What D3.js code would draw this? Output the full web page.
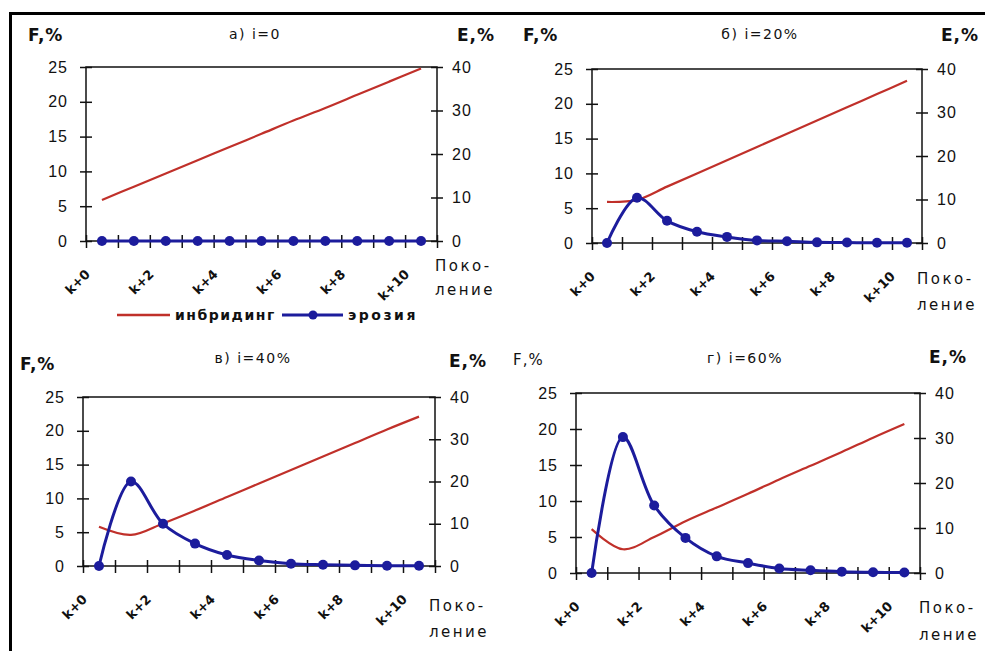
<!DOCTYPE html>
<html lang="ru">
<head>
<meta charset="utf-8">
<title>Инбридинг и эрозия</title>
<script src="https://cdn.jsdelivr.net/npm/d3@7"></script>
<style>
  body { margin: 0; background: #fff; }
  svg { display: block; font-family: "DejaVu Sans", sans-serif; }
  .axis path { display: none; }
  .axis line { stroke: #111; stroke-width: 1.5; }
  .axis text { font-size: 16px; letter-spacing: 1px; fill: #111; }
  .xlab { font-size: 13px; font-weight: bold; fill: #111; }
  .title { font-size: 14px; letter-spacing: 1.5px; fill: #111; }
  .unit { font-size: 16px; font-weight: bold; letter-spacing: 1px; fill: #111; }
  .gen { font-size: 15px; letter-spacing: 2.5px; fill: #111; }
  .leg { font-size: 14px; font-weight: bold; fill: #111; }
</style>
</head>
<body>
<script>
// generations on the x axis, labels shown every other one
var categories = ["k+0", "k+1", "k+2", "k+3", "k+4", "k+5", "k+6", "k+7", "k+8", "k+9", "k+10"];
var shownLabels = ["k+0", "k+2", "k+4", "k+6", "k+8", "k+10"];
var fTicks = [0, 5, 10, 15, 20, 25];
var eTicks = [0, 10, 20, 30, 40];
var titles = ["а) i=0", "б) i=20%", "в) i=40%", "г) i=60%"];

// F,% - inbreeding (left axis)
var inbreedA = [5.9, 7.8, 9.7, 11.6, 13.5, 15.4, 17.3, 19.1, 21.0, 22.9, 24.8];
var inbreedB = [5.9, 6.2, 8.1, 10.0, 11.9, 13.8, 15.7, 17.6, 19.5, 21.4, 23.3];
var inbreedV = [5.8, 4.6, 6.3, 8.2, 10.2, 12.2, 14.2, 16.2, 18.2, 20.2, 22.1];
var inbreedG = [6.1, 3.3, 5.0, 7.2, 9.1, 11.0, 13.0, 14.9, 16.8, 18.8, 20.7];

// E,% - erosion (right axis)
var erosionA = [0, 0, 0, 0, 0, 0, 0, 0, 0, 0, 0];
var erosionB = [0, 10.4, 5.1, 2.6, 1.4, 0.6, 0.4, 0.15, 0.1, 0.05, 0.05];
var erosionV = [0, 20.0, 10.0, 5.3, 2.6, 1.3, 0.55, 0.3, 0.15, 0.05, 0.05];
var erosionG = [0, 30.2, 15.0, 7.8, 3.7, 2.2, 1.0, 0.6, 0.3, 0.15, 0.1];

var red = "#c0302a", blue = "#1c1c9c";

var panels = [
  {title: titles[0], f: inbreedA, e: erosionA, x0: 86, x1: 437, top: 67, bot: 241,
   tx: 255, ty: 39, fx: 28, fy: 41, fBold: true, ex: 457, ey: 41, gx: 435, gy1: 271, gy2: 295},
  {title: titles[1], f: inbreedB, e: erosionB, x0: 592, x1: 922, top: 69, bot: 243,
   tx: 760, ty: 39, fx: 523, fy: 41, fBold: true, ex: 941, ey: 41, gx: 917, gy1: 284, gy2: 310},
  {title: titles[2], f: inbreedV, e: erosionV, x0: 83, x1: 435, top: 397, bot: 566,
   tx: 253, ty: 363, fx: 20, fy: 370, fBold: true, ex: 449, ey: 367, gx: 429, gy1: 611, gy2: 637},
  {title: titles[3], f: inbreedG, e: erosionG, x0: 576, x1: 920, top: 393, bot: 573,
   tx: 745, ty: 363, fx: 513, fy: 365, fBold: false, ex: 929, ey: 363, gx: 919, gy1: 613, gy2: 640}
];

var svg = d3.select("body").append("svg")
  .attr("width", 985)
  .attr("height", 651);

svg.append("rect")
  .attr("x", 10.5).attr("y", 13.5)
  .attr("width", 1000).attr("height", 700)
  .attr("fill", "none").attr("stroke", "#000").attr("stroke-width", 3);

panels.forEach(function(p) {
  var g = svg.append("g");

  var x = d3.scaleBand().domain(categories).range([p.x0, p.x1]);
  var xEdge = d3.scaleLinear().domain([0, categories.length]).range([p.x0, p.x1]);
  var yF = d3.scaleLinear().domain([0, 25]).range([p.bot, p.top]);
  var yE = d3.scaleLinear().domain([0, 40]).range([p.bot, p.top]);
  var cx = function(c) { return x(c) + x.bandwidth() / 2; };

  // plot frame
  g.append("rect")
    .attr("x", p.x0).attr("y", p.top)
    .attr("width", p.x1 - p.x0).attr("height", p.bot - p.top)
    .attr("fill", "none").attr("stroke", "#111").attr("stroke-width", 1.5);

  var left = g.append("g").attr("class", "axis")
    .attr("transform", "translate(" + p.x0 + ",0)")
    .call(d3.axisLeft(yF).tickValues(fTicks).tickSize(6).tickPadding(12));
  left.selectAll(".tick line").attr("x1", 6).attr("x2", -6);

  var right = g.append("g").attr("class", "axis")
    .attr("transform", "translate(" + p.x1 + ",0)")
    .call(d3.axisRight(yE).tickValues(eTicks).tickSize(6).tickPadding(9));
  right.selectAll(".tick line").attr("x1", -6).attr("x2", 6);

  var bottom = g.append("g").attr("class", "axis")
    .attr("transform", "translate(0," + p.bot + ")")
    .call(d3.axisBottom(xEdge).tickValues(d3.range(categories.length + 1)).tickSize(7).tickFormat(""));
  bottom.selectAll(".tick line").attr("y1", -6).attr("y2", 7);

  g.selectAll(".xlab").data(shownLabels).enter().append("text")
    .attr("class", "xlab")
    .attr("text-anchor", "end")
    .attr("transform", function(d) {
      return "translate(" + (cx(d) - 11) + "," + (p.bot + 34) + ") rotate(-45)";
    })
    .text(function(d) { return d; });

  // inbreeding
  g.append("path")
    .datum(p.f)
    .attr("fill", "none").attr("stroke", red).attr("stroke-width", 2.2)
    .attr("d", d3.line()
      .x(function(d, i) { return cx(categories[i]); })
      .y(function(d) { return yF(d); })
      .curve(d3.curveCatmullRom));

  // erosion
  g.append("path")
    .datum(p.e)
    .attr("fill", "none").attr("stroke", blue).attr("stroke-width", 3)
    .attr("d", d3.line()
      .x(function(d, i) { return cx(categories[i]); })
      .y(function(d) { return yE(d); })
      .curve(d3.curveCatmullRom));

  g.selectAll(".pt").data(p.e).enter().append("circle")
    .attr("class", "pt")
    .attr("cx", function(d, i) { return cx(categories[i]); })
    .attr("cy", function(d) { return yE(d); })
    .attr("r", 5)
    .attr("fill", blue);

  g.append("text").attr("class", "title")
    .attr("x", p.tx).attr("y", p.ty).attr("text-anchor", "middle")
    .text(p.title);
  g.append("text").attr("class", "unit")
    .attr("x", p.fx).attr("y", p.fy)
    .style("font-weight", p.fBold ? "bold" : "normal")
    .style("font-size", p.fBold ? "17px" : "15px")
    .text("F,%");
  g.append("text").attr("class", "unit")
    .attr("x", p.ex).attr("y", p.ey)
    .style("font-size", "17px")
    .text("E,%");
  g.append("text").attr("class", "gen")
    .attr("x", p.gx).attr("y", p.gy1).text("Поко-");
  g.append("text").attr("class", "gen")
    .attr("x", p.gx).attr("y", p.gy2).text("ление");
});

// legend, under the first panel
var legY = 315;
svg.append("line")
  .attr("x1", 117).attr("x2", 170).attr("y1", legY).attr("y2", legY)
  .attr("stroke", red).attr("stroke-width", 2.5);
svg.append("text").attr("class", "leg")
  .attr("x", 175).attr("y", legY + 5)
  .style("letter-spacing", "1.5px")
  .text("инбридинг");
svg.append("line")
  .attr("x1", 282).attr("x2", 343).attr("y1", legY).attr("y2", legY)
  .attr("stroke", blue).attr("stroke-width", 3);
svg.append("circle")
  .attr("cx", 313).attr("cy", legY).attr("r", 4.5).attr("fill", blue);
svg.append("text").attr("class", "leg")
  .attr("x", 348).attr("y", legY + 5)
  .style("letter-spacing", "2.5px")
  .text("эрозия");
</script>
</body>
</html>
